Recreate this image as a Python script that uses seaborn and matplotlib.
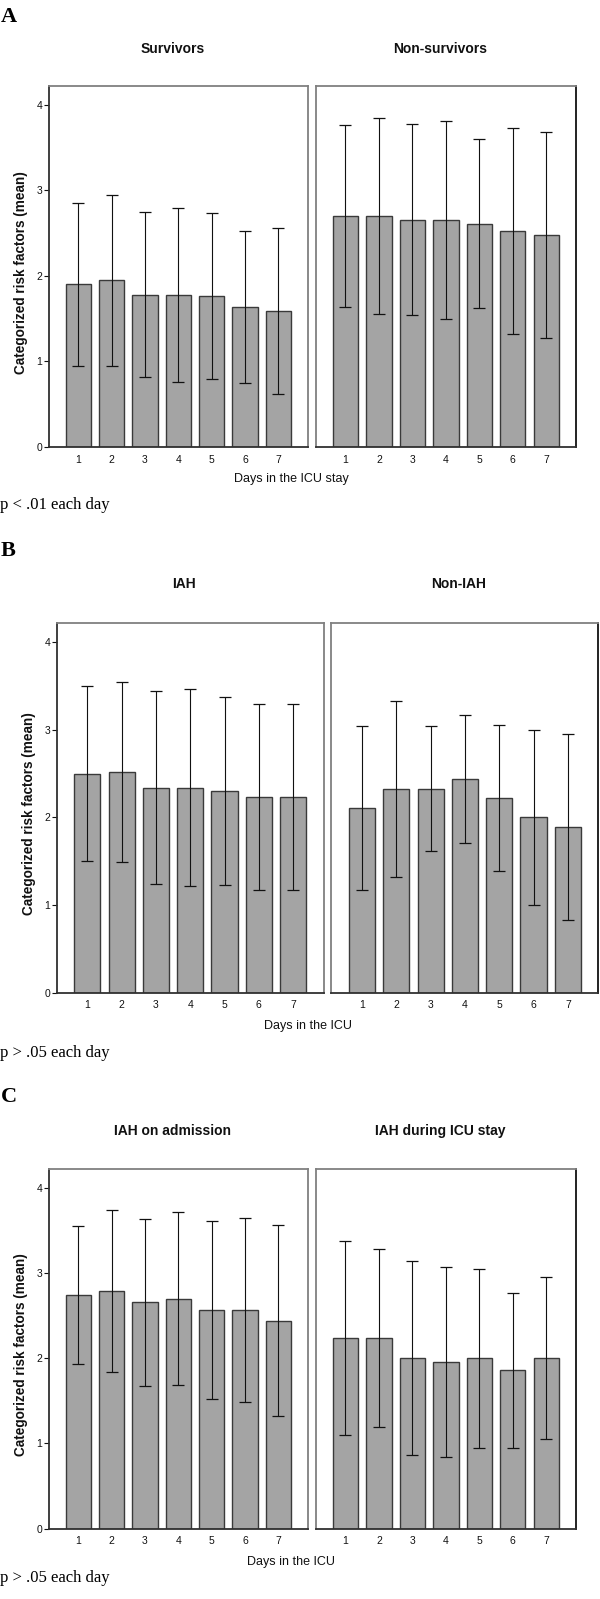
import numpy as np
import pandas as pd
import matplotlib
matplotlib.use("Agg")
import matplotlib.pyplot as plt
import seaborn as sns

# ---------------- data ----------------
days = ["1", "2", "3", "4", "5", "6", "7"]

# Panel A
survivors_mean = [1.90, 1.95, 1.78, 1.78, 1.76, 1.64, 1.59]
survivors_sd = [0.95, 1.00, 0.965, 1.015, 0.97, 0.89, 0.975]
nonsurvivors_mean = [2.70, 2.70, 2.655, 2.655, 2.61, 2.525, 2.48]
nonsurvivors_sd = [1.06, 1.15, 1.115, 1.155, 0.99, 1.205, 1.20]

# Panel B
iah_mean = [2.50, 2.52, 2.34, 2.34, 2.30, 2.23, 2.23]
iah_sd = [1.00, 1.03, 1.10, 1.125, 1.075, 1.06, 1.06]
noniah_mean = [2.11, 2.33, 2.33, 2.44, 2.22, 2.00, 1.89]
noniah_sd = [0.935, 1.005, 0.71, 0.73, 0.835, 1.00, 1.06]

# Panel C
adm_mean = [2.74, 2.785, 2.655, 2.70, 2.565, 2.565, 2.44]
adm_sd = [0.81, 0.95, 0.98, 1.015, 1.04, 1.075, 1.12]
during_mean = [2.235, 2.235, 2.00, 1.955, 2.00, 1.86, 2.00]
during_sd = [1.135, 1.045, 1.14, 1.115, 1.05, 0.91, 0.95]

panel_letters = ["A", "B", "C"]
panel_titles = [("Survivors", "Non-survivors"),
                ("IAH", "Non-IAH"),
                ("IAH on admission", "IAH during ICU stay")]
panel_xlabels = ["Days in the ICU stay", "Days in the ICU", "Days in the ICU"]
panel_notes = ["p < .01 each day", "p > .05 each day", "p > .05 each day"]
ylabel_text = "Categorized risk factors (mean)"
yticks = [0, 1, 2, 3, 4]

panel_data = [
    ((survivors_mean, survivors_sd), (nonsurvivors_mean, nonsurvivors_sd)),
    ((iah_mean, iah_sd), (noniah_mean, noniah_sd)),
    ((adm_mean, adm_sd), (during_mean, during_sd)),
]

# ---------------- style ----------------
sns.set_theme(style="white")
plt.rcParams["font.family"] = ["Liberation Sans", "DejaVu Sans"]

W, H = 600, 1599
fig = plt.figure(figsize=(W / 100, H / 100), dpi=100)

def fx(x):
    return x / W

def fy(y):
    return 1 - y / H

layouts = [
    dict(l1=48.7, r1=308.0, l2=315.7, r2=576.0, top=86.0, bot=447.0,
         title_y=49, letter_y=17, xlab_y=479, xlab_x=291, note_y=505, ylab_x=21),
    dict(l1=56.7, r1=323.7, l2=331.4, r2=598.4, top=623.0, bot=992.6,
         title_y=584, letter_y=551, xlab_y=1026, xlab_x=308, note_y=1053, ylab_x=29),
    dict(l1=48.7, r1=308.0, l2=315.7, r2=576.0, top=1169.0, bot=1528.6,
         title_y=1131, letter_y=1097, xlab_y=1562, xlab_x=291, note_y=1578, ylab_x=21),
]

bar_color = "#a4a4a4"
edge_color = "#3a3a3a"
grey_spine = "#808080"
dark_spine = "#303030"

for p, lay in enumerate(layouts):
    for side in range(2):
        if side == 0:
            l, r = lay["l1"], lay["r1"]
        else:
            l, r = lay["l2"], lay["r2"]
        t, b = lay["top"], lay["bot"]
        ax = fig.add_axes([fx(l), fy(b), fx(r) - fx(l), fy(t) - fy(b)])
        means, sds = panel_data[p][side]
        df = pd.DataFrame({"day": days, "mean": means, "sd": sds})
        sns.barplot(data=df, x="day", y="mean", order=days, ax=ax,
                    color=bar_color, edgecolor=edge_color, linewidth=1.0,
                    width=0.76, errorbar=None, saturation=1)
        ax.errorbar(x=np.arange(len(days)), y=df["mean"], yerr=df["sd"],
                    fmt="none", ecolor="#111111", elinewidth=0.8,
                    capsize=4, capthick=0.9, zorder=5)
        ax.set_xlim(-0.89, 6.89)
        ax.set_ylim(0, 4.22)
        ax.set_xlabel("")
        ax.set_ylabel("")
        ax.tick_params(axis="x", length=0, pad=5.5, labelsize=7.5, colors="#111111")
        if side == 0:
            ax.set_yticks(yticks)
            ax.set_yticklabels([str(v) for v in yticks])
            ax.tick_params(axis="y", left=True, length=3.5, width=0.8,
                           direction="out", pad=1, labelsize=7.5,
                           colors="#111111")
        else:
            ax.set_yticks([])
        for s in ["top", "right", "left", "bottom"]:
            ax.spines[s].set_visible(True)
            ax.spines[s].set_linewidth(1.3)
        ax.spines["top"].set_color(grey_spine)
        ax.spines["bottom"].set_color(dark_spine)
        if side == 0:
            ax.spines["left"].set_color(dark_spine)
            ax.spines["right"].set_color(grey_spine)
        else:
            ax.spines["left"].set_color(grey_spine)
            ax.spines["right"].set_color("#111111")
        ax.grid(False)
        ax.set_facecolor("white")
        fig.text(fx((l + r) / 2 - 6), fy(lay["title_y"]), panel_titles[p][side],
                 ha="center", va="center", fontsize=10, fontweight="bold",
                 color="#111111")
    fig.text(fx(lay["ylab_x"]), fy((lay["top"] + lay["bot"]) / 2 + 6), ylabel_text,
             rotation=90, ha="center", va="center", fontsize=9.8,
             fontweight="bold", color="#111111")
    fig.text(fx(lay["xlab_x"]), fy(lay["xlab_y"]), panel_xlabels[p],
             ha="center", va="center", fontsize=9, color="#111111")
    fig.text(fx(1), fy(lay["letter_y"]), panel_letters[p], ha="left", va="center",
             fontsize=16, fontweight="bold", family=["Liberation Serif", "DejaVu Serif"],
             color="black")
    fig.text(fx(0), fy(lay["note_y"]), panel_notes[p], ha="left", va="center",
             fontsize=12, family=["Liberation Serif", "DejaVu Serif"], color="black")

fig.savefig("out.png", dpi=100, facecolor="white")
